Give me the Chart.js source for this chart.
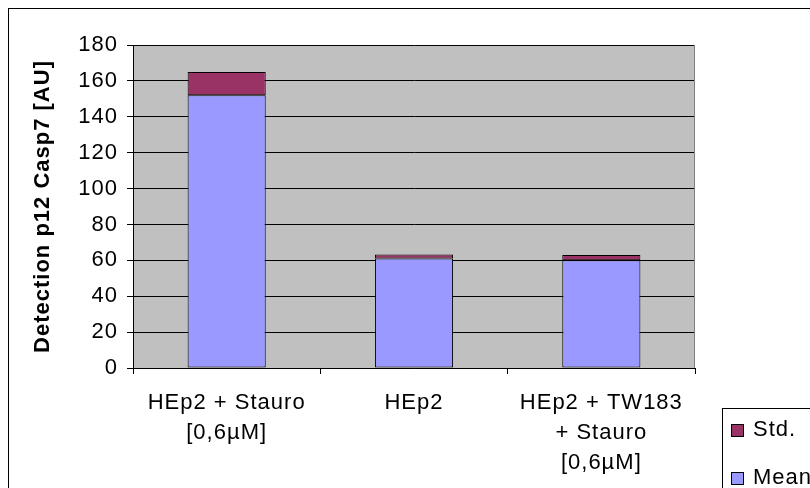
<!DOCTYPE html>
<html>
<head>
<meta charset="utf-8">
<script src="https://cdn.jsdelivr.net/npm/chart.js@4.4.1/dist/chart.umd.min.js"></script>
<style>
  html, body { margin: 0; padding: 0; background: #ffffff; overflow: hidden; }
  #wrap { width: 810px; height: 488px; }
</style>
</head>
<body>
<div id="wrap"><canvas id="c" width="810" height="488"></canvas></div>
<script>
// Caspase-7 p12 detection per cell treatment
const categories = [
  ['HEp2 + Stauro', '[0,6µM]'],
  ['HEp2'],
  ['HEp2 + TW183', '+ Stauro', '[0,6µM]']
];
const meanValues = [152, 61, 60];
const stdValues = [13, 2.3, 3];
const yTicks = [0, 20, 40, 60, 80, 100, 120, 140, 160, 180];

const seriesNames = ['Mean', 'Std.'];
const FONT = '"Liberation Sans", Arial, sans-serif';

// gray plot background, outer frame and right plot border
const frame = {
  id: 'frame',
  beforeDraw(chart) {
    const { ctx, chartArea: a } = chart;
    ctx.letterSpacing = '1px';
    ctx.save();
    ctx.fillStyle = '#C0C0C0';
    ctx.fillRect(a.left, a.top, a.right - a.left, a.bottom - a.top);
    ctx.restore();
  },
  afterDraw(chart) {
    const { ctx, chartArea: a } = chart;
    ctx.save();
    ctx.strokeStyle = '#000000';
    ctx.lineWidth = 1;
    ctx.strokeRect(8.5, 8.5, 900, 600);
    ctx.strokeStyle = '#808080';
    ctx.beginPath();
    ctx.moveTo(Math.round(a.right) - 0.5, a.top);
    ctx.lineTo(Math.round(a.right) - 0.5, a.bottom);
    ctx.stroke();
    ctx.restore();
  }
};

// boxed legend at the lower right, Std. above Mean
const boxLegend = {
  id: 'boxLegend',
  afterDraw(chart) {
    const { ctx } = chart;
    const x0 = 722, y0 = 408;
    ctx.save();
    ctx.fillStyle = '#ffffff';
    ctx.fillRect(x0, y0, 200, 200);
    ctx.strokeStyle = '#000000';
    ctx.lineWidth = 1;
    ctx.strokeRect(x0 + 0.5, y0 + 0.5, 200, 200);
    const order = [1, 0];
    order.forEach((di, i) => {
      const ds = chart.data.datasets[di];
      const sy = y0 + 16 + i * 48;
      ctx.fillStyle = ds.backgroundColor;
      ctx.fillRect(x0 + 9, sy, 13, 13);
      ctx.strokeStyle = '#000000';
      ctx.strokeRect(x0 + 9.5, sy + 0.5, 12, 12);
      ctx.fillStyle = '#000000';
      ctx.font = '22px ' + FONT;
      ctx.textBaseline = 'middle';
      ctx.textAlign = 'left';
      ctx.fillText(ds.label, x0 + 31, sy + 6);
    });
    ctx.restore();
    ctx.letterSpacing = '0px';
  }
};

new Chart(document.getElementById('c'), {
  type: 'bar',
  data: {
    labels: categories,
    datasets: [
      {
        label: seriesNames[0],
        data: meanValues,
        backgroundColor: '#9999FF',
        borderColor: '#000000',
        borderWidth: 1,
        borderSkipped: false,
        barPercentage: 0.417,
        categoryPercentage: 1
      },
      {
        label: seriesNames[1],
        data: stdValues,
        backgroundColor: '#993366',
        borderColor: '#000000',
        borderWidth: 1,
        borderSkipped: false,
        barPercentage: 0.417,
        categoryPercentage: 1
      }
    ]
  },
  options: {
    responsive: false,
    animation: false,
    devicePixelRatio: 1,
    layout: { padding: { left: 30, right: 115, top: 45, bottom: 0 } },
    plugins: {
      legend: { display: false },
      tooltip: { enabled: false }
    },
    scales: {
      x: {
        stacked: true,
        offset: true,
        grid: {
          display: true,
          offset: true,
          drawOnChartArea: false,
          drawTicks: true,
          tickLength: 6,
          color: '#000000'
        },
        border: { display: true, color: '#000000' },
        ticks: {
          color: '#000000',
          padding: 14,
          maxRotation: 0,
          autoSkip: false,
          font: { family: FONT, size: 22, lineHeight: 1.36 }
        },
        afterFit(scale) { scale.height = 120; }
      },
      y: {
        stacked: true,
        min: 0,
        max: 180,
        afterBuildTicks(scale) { scale.ticks = yTicks.map(v => ({ value: v })); },
        grid: {
          color: '#000000',
          lineWidth: 1,
          drawTicks: true,
          tickLength: 6
        },
        border: { display: true, color: '#000000' },
        ticks: {
          color: '#000000',
          padding: 9,
          font: { family: FONT, size: 22 }
        },
        title: {
          display: true,
          text: 'Detection p12 Casp7 [AU]',
          color: '#000000',
          padding: { top: 0, bottom: 0 },
          font: { family: FONT, size: 22, weight: 'bold' }
        },
        afterFit(scale) { scale.width = 103; }
      }
    }
  },
  plugins: [frame, boxLegend]
});
</script>
</body>
</html>
